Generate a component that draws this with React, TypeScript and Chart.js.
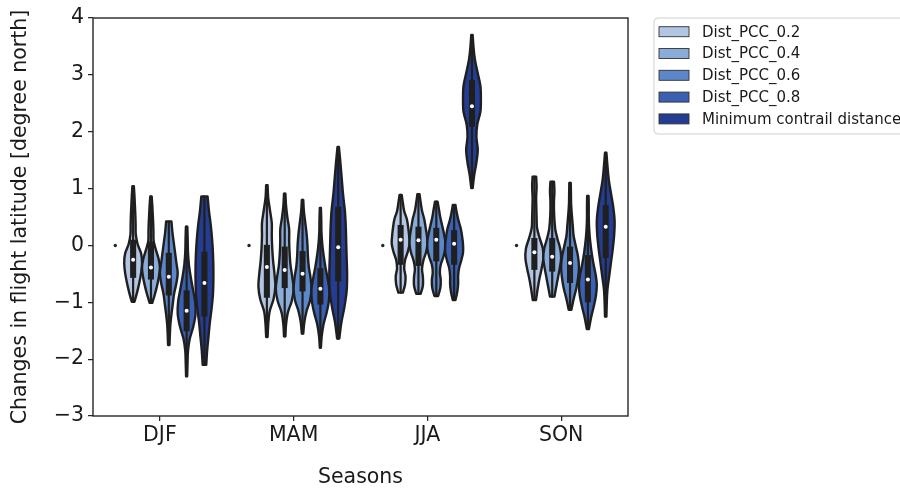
import React, { useEffect, useRef } from 'react';
import { Chart, registerables } from 'chart.js';

Chart.register(...registerables);

// Seasons on the x axis
const seasons = ['DJF', 'MAM', 'JJA', 'SON'];

// Series shown in the legend (one violin per season each)
const seriesLabels = ['Dist_PCC_0.2', 'Dist_PCC_0.4', 'Dist_PCC_0.6', 'Dist_PCC_0.8', 'Minimum contrail distance'];
const seriesColors = ['#b2c5e3', '#8aacd9', '#5c87c9', '#3a60b3', '#243d93'];

// Zero-change reference placed before the violins of each season
const referenceValues = [0, 0, 0, 0];

// Violin extents, quartiles and medians, indexed [series][season]
const tailLow = [
  [-0.99, -1.61, -0.83, -0.96],
  [-1.01, -1.6, -0.85, -0.9],
  [-1.75, -1.55, -0.89, -1.13],
  [-2.3, -1.8, -0.96, -1.47],
  [-2.1, -1.64, 1.01, -1.25],
];
const tailHigh = [
  [1.04, 1.06, 0.89, 1.21],
  [0.86, 0.91, 0.9, 1.12],
  [0.42, 0.8, 0.77, 1.1],
  [0.33, 0.66, 0.71, 0.87],
  [0.86, 1.73, 3.7, 1.63],
];
const quartile1 = [
  [-0.57, -0.92, -0.34, -0.43],
  [-0.6, -0.75, -0.36, -0.46],
  [-0.88, -0.81, -0.28, -0.66],
  [-1.51, -1.04, -0.34, -1.0],
  [-1.25, -0.63, 2.09, -0.22],
];
const medians = [
  [-0.25, -0.38, 0.1, -0.12],
  [-0.39, -0.43, 0.09, -0.2],
  [-0.55, -0.5, 0.1, -0.31],
  [-1.15, -0.76, 0.03, -0.6],
  [-0.66, -0.03, 2.45, 0.33],
];
const quartile3 = [
  [0.1, 0.01, 0.36, 0.13],
  [0.07, -0.02, 0.33, 0.13],
  [-0.13, -0.1, 0.31, -0.02],
  [-0.79, -0.4, 0.27, -0.17],
  [-0.11, 0.68, 2.91, 0.71],
];

// Relative kernel density, sampled evenly from tailLow (first) to tailHigh (last), per season
const densityPcc02 = [
  [0.15, 0.45, 0.7, 0.9, 1.0, 0.9, 0.5, 0.3, 0.28, 0.25, 0.2, 0.15, 0.08],
  [0.08, 0.15, 0.3, 0.75, 0.95, 0.85, 0.7, 0.6, 0.55, 0.55, 0.35, 0.15, 0.08],
  [0.25, 0.5, 0.55, 0.4, 0.5, 0.8, 1.0, 0.95, 0.85, 0.7, 0.4, 0.25, 0.12],
  [0.18, 0.35, 0.55, 0.8, 1.0, 0.95, 0.6, 0.3, 0.25, 0.22, 0.2, 0.25, 0.2],
];
const densityPcc04 = [
  [0.15, 0.45, 0.7, 0.9, 1.0, 0.85, 0.55, 0.3, 0.28, 0.25, 0.2, 0.15, 0.08],
  [0.08, 0.15, 0.35, 0.8, 1.0, 0.85, 0.65, 0.55, 0.5, 0.5, 0.3, 0.15, 0.08],
  [0.25, 0.5, 0.5, 0.4, 0.55, 0.85, 1.0, 0.95, 0.8, 0.65, 0.4, 0.25, 0.12],
  [0.25, 0.45, 0.65, 0.85, 1.0, 0.9, 0.6, 0.35, 0.25, 0.2, 0.2, 0.25, 0.2],
];
const densityPcc06 = [
  [0.08, 0.12, 0.18, 0.3, 0.45, 0.6, 0.85, 1.0, 0.85, 0.7, 0.55, 0.4, 0.3],
  [0.08, 0.2, 0.45, 0.85, 1.0, 0.9, 0.7, 0.6, 0.55, 0.45, 0.3, 0.15, 0.08],
  [0.2, 0.45, 0.5, 0.4, 0.5, 0.8, 1.0, 1.0, 0.85, 0.65, 0.45, 0.3, 0.15],
  [0.15, 0.4, 0.7, 0.9, 1.0, 0.9, 0.65, 0.4, 0.3, 0.2, 0.12, 0.1, 0.08],
];
const densityPcc08 = [
  [0.06, 0.1, 0.15, 0.35, 0.75, 1.0, 0.95, 0.7, 0.45, 0.25, 0.15, 0.12, 0.08],
  [0.06, 0.15, 0.35, 0.7, 0.95, 1.0, 0.8, 0.55, 0.35, 0.2, 0.12, 0.1, 0.06],
  [0.15, 0.35, 0.45, 0.45, 0.55, 0.8, 1.0, 1.0, 0.9, 0.75, 0.5, 0.3, 0.15],
  [0.12, 0.35, 0.65, 0.9, 1.0, 0.85, 0.6, 0.4, 0.25, 0.15, 0.1, 0.1, 0.08],
];
const densityMinDist = [
  [0.2, 0.3, 0.45, 0.6, 0.8, 0.95, 1.0, 1.0, 0.95, 0.85, 0.7, 0.5, 0.35],
  [0.12, 0.35, 0.7, 0.95, 1.0, 0.95, 0.9, 0.85, 0.75, 0.55, 0.4, 0.25, 0.08],
  [0.08, 0.25, 0.5, 0.65, 0.5, 0.6, 0.95, 1.0, 0.95, 0.65, 0.35, 0.18, 0.08],
  [0.08, 0.12, 0.2, 0.4, 0.6, 0.8, 0.95, 1.0, 0.85, 0.6, 0.35, 0.2, 0.08],
];
const densities = [densityPcc02, densityPcc04, densityPcc06, densityPcc08, densityMinDist];

const yMin = -3;
const yMax = 4;

const FONT = '"DejaVu Sans", sans-serif';
const AXIS_FONT_SIZE = 20.5;
const INK = '#1a1a1a';
const LINE = '#1f1f1f';

type Pt = { x: number; y: number };

// Smooth curve through the given points (Catmull-Rom converted to cubic Beziers)
function curveThrough(ctx: CanvasRenderingContext2D, pts: Pt[]) {
  for (let i = 0; i < pts.length - 1; i++) {
    const p0 = pts[Math.max(0, i - 1)];
    const p1 = pts[i];
    const p2 = pts[i + 1];
    const p3 = pts[Math.min(pts.length - 1, i + 2)];
    ctx.bezierCurveTo(
      p1.x + (p2.x - p0.x) / 6,
      p1.y + (p2.y - p0.y) / 6,
      p2.x - (p3.x - p1.x) / 6,
      p2.y - (p3.y - p1.y) / 6,
      p2.x,
      p2.y
    );
  }
}

const violinPlugin = {
  id: 'violins',
  afterDatasetsDraw(chart: any) {
    const ctx: CanvasRenderingContext2D = chart.ctx;
    const yScale = chart.scales.y;
    const area = chart.chartArea;
    ctx.save();
    ctx.beginPath();
    ctx.rect(area.left, area.top, area.right - area.left, area.bottom - area.top);
    ctx.clip();

    // zero-change reference markers
    chart.getDatasetMeta(0).data.forEach((el: any, j: number) => {
      const { x } = el.getProps(['x'], true);
      ctx.beginPath();
      ctx.arc(x, yScale.getPixelForValue(referenceValues[j]), 1.7, 0, Math.PI * 2);
      ctx.fillStyle = '#262626';
      ctx.fill();
    });

    for (let s = 0; s < seriesLabels.length; s++) {
      const meta = chart.getDatasetMeta(s + 1);
      meta.data.forEach((el: any, j: number) => {
        const { x, width } = el.getProps(['x', 'width'], true);
        const half = width / 2;
        const dens = densities[s][j];
        const lo = tailLow[s][j];
        const hi = tailHigh[s][j];
        const n = dens.length;
        const right: Pt[] = dens.map((d, k) => ({
          x: x + d * half,
          y: yScale.getPixelForValue(lo + ((hi - lo) * k) / (n - 1)),
        }));
        const left: Pt[] = right.map((p) => ({ x: 2 * x - p.x, y: p.y })).reverse();

        // violin body
        ctx.beginPath();
        ctx.moveTo(right[0].x, right[0].y);
        curveThrough(ctx, right);
        ctx.lineTo(left[0].x, left[0].y);
        curveThrough(ctx, left);
        ctx.closePath();
        ctx.fillStyle = seriesColors[s];
        ctx.fill();
        ctx.lineJoin = 'round';
        ctx.lineCap = 'round';
        ctx.lineWidth = 2.4;
        ctx.strokeStyle = LINE;
        ctx.stroke();

        // whisker line
        ctx.beginPath();
        ctx.moveTo(x, yScale.getPixelForValue(lo));
        ctx.lineTo(x, yScale.getPixelForValue(hi));
        ctx.lineWidth = 2.2;
        ctx.strokeStyle = LINE;
        ctx.stroke();

        // interquartile box
        const boxW = width * 0.34;
        const yq3 = yScale.getPixelForValue(quartile3[s][j]);
        const yq1 = yScale.getPixelForValue(quartile1[s][j]);
        ctx.fillStyle = LINE;
        ctx.fillRect(x - boxW / 2, yq3, boxW, yq1 - yq3);

        // median
        ctx.beginPath();
        ctx.arc(x, yScale.getPixelForValue(medians[s][j]), 2.0, 0, Math.PI * 2);
        ctx.fillStyle = '#ffffff';
        ctx.fill();
      });
    }
    ctx.restore();
  },
  afterDraw(chart: any) {
    const ctx: CanvasRenderingContext2D = chart.ctx;
    const area = chart.chartArea;
    ctx.save();
    // axes frame
    ctx.strokeStyle = '#262626';
    ctx.lineWidth = 1.4;
    ctx.strokeRect(area.left, area.top, area.right - area.left, area.bottom - area.top);

    // legend
    const lx = area.right + 26;
    const ly = area.top;
    const rowH = 21.8;
    const boxH = 116;
    ctx.beginPath();
    ctx.roundRect(lx, ly, 300, boxH, 4);
    ctx.fillStyle = 'rgba(255,255,255,0.85)';
    ctx.fill();
    ctx.strokeStyle = '#cfcfcf';
    ctx.lineWidth = 1;
    ctx.stroke();
    ctx.font = `15px ${FONT}`;
    ctx.textBaseline = 'middle';
    ctx.textAlign = 'left';
    seriesLabels.forEach((label, i) => {
      const cy = ly + 13.7 + i * rowH;
      ctx.fillStyle = seriesColors[i];
      ctx.fillRect(lx + 5, cy - 5, 30, 10);
      ctx.strokeStyle = '#333333';
      ctx.lineWidth = 0.9;
      ctx.strokeRect(lx + 5, cy - 5, 30, 10);
      ctx.fillStyle = INK;
      ctx.fillText(label, lx + 48, cy + 1);
    });
    ctx.restore();
  },
};

export default function App() {
  const canvasRef = useRef<HTMLCanvasElement | null>(null);

  useEffect(() => {
    if (!canvasRef.current) return;
    const datasets: any[] = [
      {
        label: 'reference',
        data: referenceValues.map((v) => [v, v]),
        backgroundColor: 'rgba(0,0,0,0)',
        borderWidth: 0,
      },
      ...seriesLabels.map((label, s) => ({
        label,
        data: seasons.map((_, j) => [tailLow[s][j], tailHigh[s][j]]),
        backgroundColor: 'rgba(0,0,0,0)',
        borderWidth: 0,
      })),
    ];

    const chart = new Chart(canvasRef.current, {
      type: 'bar',
      data: { labels: seasons, datasets },
      plugins: [violinPlugin],
      options: {
        responsive: false,
        animation: false,
        events: [],
        devicePixelRatio: 1,
        layout: { padding: { top: 18, right: 272, left: 0, bottom: 0 } },
        datasets: { bar: { categoryPercentage: 0.8, barPercentage: 1.0 } },
        plugins: { legend: { display: false }, tooltip: { enabled: false } },
        scales: {
          x: {
            type: 'category',
            offset: true,
            grid: {
              offset: false,
              drawOnChartArea: false,
              drawTicks: true,
              tickLength: 5,
              color: '#262626',
              lineWidth: 1.25,
            },
            border: { display: false },
            ticks: { color: INK, font: { family: FONT, size: AXIS_FONT_SIZE }, padding: 2 },
            title: {
              display: true,
              text: 'Seasons',
              color: INK,
              font: { family: FONT, size: AXIS_FONT_SIZE },
              padding: { top: 0, bottom: 0 },
            },
            afterFit: (scale: any) => {
              scale.height = 74;
            },
          },
          y: {
            type: 'linear',
            min: yMin,
            max: yMax,
            grid: { drawOnChartArea: false, drawTicks: true, tickLength: 5, color: '#262626', lineWidth: 1.25 },
            border: { display: false },
            ticks: {
              stepSize: 1,
              color: INK,
              font: { family: FONT, size: AXIS_FONT_SIZE },
              padding: 4,
              callback: (v: any) => (Number(v) < 0 ? '\u2212' + Math.abs(Number(v)) : String(v)),
            },
            title: {
              display: true,
              text: 'Changes in flight latitude [degree north]',
              color: INK,
              font: { family: FONT, size: AXIS_FONT_SIZE },
              padding: { top: 8, bottom: 0 },
            },
            afterFit: (scale: any) => {
              scale.width = 93;
            },
          },
        },
      } as any,
    });
    return () => chart.destroy();
  }, []);

  return (
    <div style={{ position: 'fixed', left: 0, top: 0, width: 900, height: 490, background: '#ffffff' }}>
      <canvas ref={canvasRef} width={900} height={490} style={{ display: 'block' }} />
    </div>
  );
}
